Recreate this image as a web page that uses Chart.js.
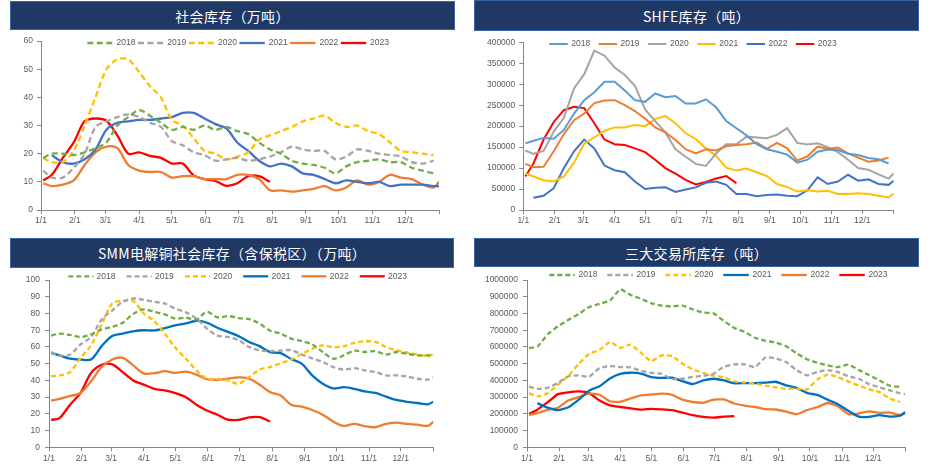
<!DOCTYPE html>
<html>
<head>
<meta charset="utf-8">
<script src="https://cdn.jsdelivr.net/npm/chart.js@4.4.0/dist/chart.umd.min.js"></script>
<style>
  html, body { margin: 0; padding: 0; background: #fff; }
  body { width: 932px; height: 466px; position: relative; overflow: hidden; }
  .bar {
    position: absolute; background: #1F3864; border: 1px solid #3A64A8; box-sizing: border-box;
    color: #fff; font-family: "Noto Sans CJK SC", "Noto Sans", sans-serif; font-size: 14px;
    display: flex; align-items: center; justify-content: center; letter-spacing: 0.3px;
  }
  canvas { position: absolute; }
</style>
</head>
<body>
<div class="bar" style="left:10px;top:1px;width:445px;height:29px;">社会库存（万吨）</div>
<div class="bar" style="left:474px;top:0px;width:445px;height:31px;">SHFE库存（吨）</div>
<div class="bar" style="left:10px;top:238px;width:444px;height:30px;">SMM电解铜社会库存（含保税区）（万吨）</div>
<div class="bar" style="left:474px;top:238px;width:445px;height:29px;">三大交易所库存（吨）</div>
<canvas id="c1" width="466" height="200" style="left:0;top:32px;"></canvas>
<canvas id="c2" width="466" height="200" style="left:466px;top:32px;"></canvas>
<canvas id="c3" width="466" height="196" style="left:0;top:270px;"></canvas>
<canvas id="c4" width="466" height="196" style="left:466px;top:270px;"></canvas>
<script>
// x 轴：一年中的第几天
const days = [2, 10, 20, 30, 40, 50, 60, 70, 80, 90, 100, 110, 120, 130, 140, 150, 160, 170, 180,
  190, 200, 210, 220, 230, 240, 250, 260, 270, 280, 290, 300, 310, 320, 330, 340, 350, 360, 365];
const monthDays = [0, 31, 59, 90, 120, 151, 181, 212, 243, 273, 304, 334, 365];
const monthLabels = ['1/1', '2/1', '3/1', '4/1', '5/1', '6/1', '7/1', '8/1', '9/1', '10/1', '11/1', '12/1', ''];
const years = ['2018', '2019', '2020', '2021', '2022', '2023'];

// 社会库存（万吨）
const social2018 = [18.5,20,20,19.5,20.5,22,24,30,33,35.5,33.5,31,28.5,29.5,28.5,30,28.5,29.5,28,27,24,21.5,20,17.5,16.5,16,15,13,15.5,17,17.5,18,17,17,15,14,13];
const social2019 = [14,11.5,11.5,15,20,29.5,31.5,33,34,33,31,29.5,24.5,23,20.5,19.5,17.5,18,18.5,17.5,18,19,20.5,22.5,21.5,21,21,18,19,21.5,21,20,19.5,19,17,16.5,17.5];
const social2020 = [18.5,17,17,21,30,40,50,53.5,53.5,49,44,40,32,30,25.5,21,20,18,19,20.5,25,26.5,28,29.5,31.5,32.5,33.5,31,29.5,30,28,27,24,21,20.5,20,19.5];
const social2021 = [null,19.5,17,16.5,18,21.5,28.5,31,31.5,32,32,32.5,33,34.5,34.5,32.5,30.5,29,24,21,17.5,15.5,16.5,15.5,13,12.5,11,9.5,10.5,10,9.5,10,8.5,9,9,9,8.5,8.5];
const social2022 = [9.5,8.5,9,10.5,16,20.5,22.5,22,16,14,13.5,13.5,11.5,12,12,11,11,11,12.5,12.5,11,7,7,6.5,7,7.5,8.5,7,8,10.5,9,10,12.5,11.5,11,9,8,10];
const social2023 = [10.5,12.5,18.5,24,31.5,32.5,31.7,26.5,20,20.5,19.2,18.5,16.5,16.5,12.3,11,10.3,8.6,9.5,12,12,10];

// SHFE库存（千吨 → 吨）
const shfe2018 = [159,165,172,170,191,230,262,281,306,306,285,262,258,278,269,272,254,254,264,245,212,195,178,157,145,139,132,113,120,139,144,143,134,131,124,121,111];
const shfe2019 = [110,102,103,140,181,214,230,255,261,262,250,236,218,197,185,167,145,135,145,142,152,155,157,161,146,160,147,118,128,151,146,149,135,125,115,118,125];
const shfe2020 = [142,134,141,187,220,290,324,380,368,340,322,296,240,212,185,145,127,110,105,135,157,157,175,173,171,179,195,160,156,159,150,138,120,100,96,85,75,87];
const shfe2021 = [87,80,71,68,80,113,158,173,189,197,197,203,200,217,224,207,183,169,147,129,101,94,99,90,81,62,55,44,47,44,46,38,38,40,38,34,30,40];
const shfe2022 = [null,29,34,52,100,140,168,147,106,95,90,68,50,53,54,43,49,54,65,68,60,38,38,33,36,37,34,33,47,78,62,68,84,70,73,62,60,70];
const shfe2023 = [80,111,168,210,238,246,243,207,168,157,155,147,138,120,100,87,72,61,67,75,81,64];

// SMM电解铜社会库存（含保税区）（万吨）
const smm2018 = [66.8,68,67.2,66,67.5,70.5,72,74.5,79.8,82.5,81,79.5,77,77.5,76.5,81,77.7,78.5,77.3,76.7,74,69.8,68,65,63.5,61.5,57,53,55,57.8,57,57.5,55.5,57,56,55,55,55.5];
const smm2019 = [56.9,55,55.5,61.5,66,76.5,81.8,87,89,88.2,87,86,83,80.7,77,71,66.8,66,64,60,58,57.5,57.8,58.1,55.5,53.2,51,48,46.5,47.3,46,45,43,43,42.3,41,40.5,41.7];
const smm2020 = [42.5,43,45,53.5,61,73.5,86,87.5,87.5,80,75.5,68,59.5,53,46,41,41,40,38,42,46.5,48,50.3,52.5,55.8,59,60.9,59.9,60.5,62.5,63.4,63,60,58,56.7,55.5,54.4,55.9];
const smm2021 = [56.5,55,53,52.5,52.5,60.5,66.5,68,69.4,70,69.9,71.3,72.9,74.1,75.7,74.5,71.5,69,66.5,63,60.5,56.9,56.3,52.8,50,43,38,35.2,36,35,33.4,32.5,30.3,28.3,27.2,26.5,25.7,27.3];
const smm2022 = [27.9,29,30.7,32.5,39.5,48,52.5,53.5,49,44.2,44.3,45.5,44.5,45.3,43.5,40.7,40.3,41,41.8,41,37.5,33,31,25.5,24.3,22.3,19.5,15.4,12.8,14,12.6,12,14,14.8,14,13.5,12.8,15.4];
const smm2023 = [16.4,17.5,25.5,32.5,44.5,49.4,49.6,45,40,37.5,35,34,32.4,30,25.5,22,19.5,16.5,16.4,17.9,18,15.4];

// 三大交易所库存（千吨 → 吨）
const ex2018 = [594,602,676,724,763,798,839,858,877,944,911,888,861,847,843,847,825,806,801,755,714,690,655,637,627,604,563,527,506,490,480,495,463,432,400,368,362];
const ex2019 = [363,350,356,386,425,430,422,474,486,480,478,457,445,439,408,410,421,427,440,482,496,496,480,537,532,510,462,430,450,462,450,425,410,378,359,340,322,318];
const ex2020 = [324,304,324,375,428,500,560,582,630,594,614,565,515,550,545,500,466,445,428,418,395,388,380,369,358,349,352,345,405,435,420,393,370,346,330,292,271];
const ex2021 = [null,264,237,222,240,285,339,365,412,439,446,441,420,415,417,396,378,400,410,400,383,384,384,387,392,370,355,325,313,285,258,218,183,182,192,184,190,208];
const ex2022 = [192,205,224,237,281,300,323,314,275,272,292,310,316,321,314,285,271,267,285,286,262,249,241,228,226,213,198,222,240,265,245,198,202,215,206,208,192,212];
const ex2023 = [200,225,270,318,329,334,324,280,251,241,233,225,230,227,222,208,192,182,178,183,186];

const toPoints = (arr, k) => arr.map((v, i) => ({ x: days[i], y: v === null ? null : v * k }));

const lineLegend = {
  id: 'lineLegend',
  afterDraw(chart, args, opts) {
    const ctx = chart.ctx;
    ctx.save();
    ctx.font = opts.font;
    ctx.textBaseline = 'middle';
    ctx.fillStyle = '#595959';
    chart.data.datasets.forEach((ds, i) => {
      const x = opts.x + i * opts.pitch;
      ctx.strokeStyle = ds.borderColor;
      ctx.lineWidth = ds.borderWidth;
      ctx.setLineDash(ds.borderDash || []);
      ctx.beginPath();
      ctx.moveTo(x, opts.y);
      ctx.lineTo(x + opts.lineLen, opts.y);
      ctx.stroke();
      ctx.fillText(ds.label, x + opts.textOff, opts.y);
    });
    ctx.restore();
  }
};

const tickFont = { family: 'Liberation Sans', size: 8.5 };
const axisColor = '#868686';

function makeChart(id, p) {
  const datasets = p.series.map((arr, i) => ({
    label: years[i],
    data: toPoints(arr, p.k || 1),
    borderColor: p.colors[i],
    borderWidth: p.width,
    borderDash: p.dashed[i] ? p.dash : [],
    pointRadius: 0,
    tension: p.tension,
    fill: false
  }));
  new Chart(document.getElementById(id), {
    type: 'line',
    data: { datasets },
    options: {
      responsive: false,
      animation: false,
      layout: { padding: { left: 0, right: p.padRight, top: p.padTop, bottom: 0 } },
      plugins: { legend: { display: false }, tooltip: { enabled: false }, lineLegend: p.legend },
      scales: {
        x: {
          type: 'linear', min: 0, max: 365,
          afterBuildTicks: s => { s.ticks = monthDays.map(v => ({ value: v })); },
          afterFit: s => { s.height = p.xHeight; },
          ticks: {
            autoSkip: false, maxRotation: 0, padding: 2, color: '#595959', font: tickFont,
            callback: v => monthLabels[monthDays.indexOf(v)] || ''
          },
          grid: { drawOnChartArea: false, drawTicks: true, tickLength: 4, color: axisColor },
          border: { display: true, color: axisColor }
        },
        y: {
          min: 0, max: p.yMax,
          afterFit: s => { s.width = p.yWidth; },
          ticks: { stepSize: p.step, padding: p.yPad, color: '#595959', font: tickFont, callback: v => String(v) },
          grid: { drawOnChartArea: false, drawTicks: true, tickLength: 4, color: axisColor },
          border: { display: true, color: axisColor }
        }
      }
    },
    plugins: [lineLegend]
  });
}

const legendFont = '8.5px "Liberation Sans"';
const colorsA = ['#70AD47', '#A5A5A5', '#FFC000', '#4472C4', '#ED7D31', '#FF0000'];
const colorsB = ['#5B9BD5', '#ED7D31', '#A5A5A5', '#FFC000', '#4472C4', '#FF0000'];
const colorsC = ['#70AD47', '#A5A5A5', '#FFC000', '#0070C0', '#ED7D31', '#FF0000'];
const dashedFirst3 = [true, true, true, false, false, false];

makeChart('c1', {
  series: [social2018, social2019, social2020, social2021, social2022, social2023],
  colors: colorsA, dashed: dashedFirst3, dash: [6, 3.5], width: 2.3, tension: 0.3,
  yMax: 60, step: 10, yWidth: 41, xHeight: 22, padRight: 27, padTop: 5, yPad: 4,
  legend: { x: 87.3, y: 11, pitch: 50.7, lineLen: 25.3, textOff: 29.3, font: legendFont }
});

makeChart('c2', {
  series: [shfe2018, shfe2019, shfe2020, shfe2021, shfe2022, shfe2023], k: 1000,
  colors: colorsB, dashed: [false, false, false, false, false, false], dash: [], width: 2, tension: 0,
  yMax: 400000, step: 50000, yWidth: 57.3, xHeight: 22, padRight: 38.3, padTop: 10.3, yPad: 4,
  legend: { x: 83.3, y: 12, pitch: 49.3, lineLen: 18.5, textOff: 22, font: legendFont }
});

makeChart('c3', {
  series: [smm2018, smm2019, smm2020, smm2021, smm2022, smm2023],
  colors: colorsC, dashed: dashedFirst3, dash: [5, 3], width: 2.3, tension: 0.3,
  yMax: 100, step: 10, yWidth: 49, xHeight: 18.7, padRight: 32.7, padTop: 8.7, yPad: 5,
  legend: { x: 68.3, y: 6.3, pitch: 58.3, lineLen: 25, textOff: 28.3, font: legendFont }
});

makeChart('c4', {
  series: [ex2018, ex2019, ex2020, ex2021, ex2022, ex2023], k: 1000,
  colors: colorsC, dashed: dashedFirst3, dash: [5, 3], width: 2.3, tension: 0.15,
  yMax: 1000000, step: 100000, yWidth: 61, xHeight: 18.7, padRight: 26.7, padTop: 7.3, yPad: 5,
  legend: { x: 83.3, y: 5, pitch: 58, lineLen: 25.5, textOff: 29.3, font: legendFont }
});
</script>
</body>
</html>
